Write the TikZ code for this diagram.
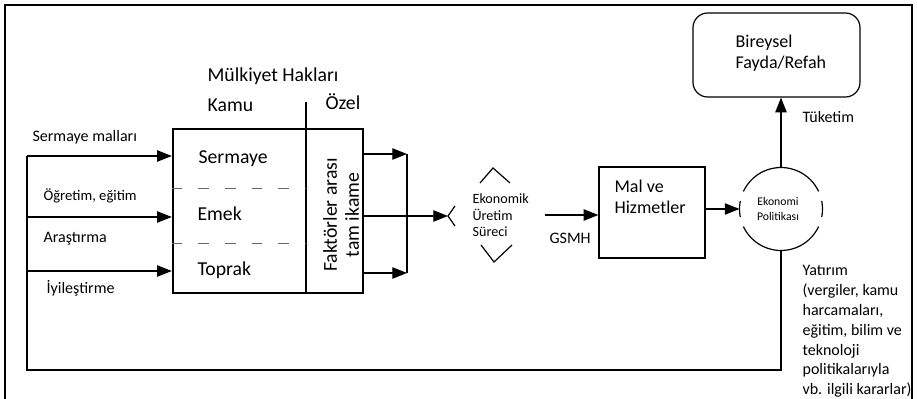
\documentclass[tikz,border=0pt]{standalone}
\usepackage{fontspec}
\setmainfont{Carlito}
\usetikzlibrary{arrows.meta}

\tikzset{every picture/.style={line width=0.75pt}}
\tikzset{
  arr/.style={-{Triangle[length=11pt,width=8.5pt]}},
  thinbox/.style={draw, line width=0.9pt, inner sep=0pt},
  thickbox/.style={draw, line width=1.8pt, inner sep=0pt},
  dashline/.style={draw=black!60, line width=0.6pt, dash pattern=on 8pt off 12pt},
  bigtxt/.style={font=\fontsize{14.8}{17}\selectfont, inner sep=0pt},
  midtxt/.style={font=\fontsize{13.5}{15.75}\selectfont, inner sep=0pt},
  labtxt/.style={font=\fontsize{12}{14.85}\selectfont, inner sep=0pt},
  smtxt/.style={font=\fontsize{10.6}{12.5}\selectfont, inner sep=0pt},
  tinytxt/.style={font=\fontsize{8.8}{11.25}\selectfont, inner sep=0pt}
}

\begin{document}
\begin{tikzpicture}[x=0.75pt,y=0.75pt,yscale=-1,xscale=1,line width=0.9pt]
\useasboundingbox (0,0) rectangle (917,399);

%Frame
\draw [line width=1.3pt] (5,405) -- (5,5) -- (912,5) -- (912,405) ;

%Shape: Rectangle [factors]
\node (fac) [thickbox, minimum width=142.5pt, minimum height=123pt] at (268,211) {};
%Shape: Rectangle [goods]
\node (mal) [thinbox, minimum width=79.5pt, minimum height=68.25pt] at (652,212.5) {};
%Rounded Rect [welfare]
\node (fay) [thinbox, rounded corners=11pt, minimum width=125.25pt, minimum height=63pt] at (776.5,55) {};
%Shape: Circle [policy]
\node (pol) [circle, inner sep=0pt, outer sep=0pt, minimum size=62.25pt] at (781,209) {};
\draw (pol.center) ++(25:41.5) arc [start angle=25, end angle=155, radius=41.5] ;
\draw (pol.center) ++(205:41.5) arc [start angle=205, end angle=335, radius=41.5] ;
\draw (pol.center) ++(-11:41.5) arc [start angle=-11, end angle=11, radius=41.5] ;
\draw (pol.center) ++(169:41.5) arc [start angle=169, end angle=191, radius=41.5] ;

%Coordinates
\coordinate (inS) at (27,156) ;
\coordinate (inE) at (27,217) ;
\coordinate (inT) at (27,271) ;
\coordinate (fbL) at (27,370) ;
\coordinate (divT) at (306,102) ;
\coordinate (dA) at (306,188) ;
\coordinate (dB) at (306,243) ;
\coordinate (oT) at (407,154) ;
\coordinate (oB) at (407,273) ;
\coordinate (procin) at (448,216) ;
\coordinate (gsin) at (545,215) ;

%Column divider and dashed rows
\draw (divT) -- (divT |- fac.south) ;
\draw [dashline] (fac.west |- dA) -- (dA) ;
\draw [dashline] (fac.west |- dB) -- (dB) ;

%Straight Lines [inputs]
\draw [arr] (inS) -- (inS -| fac.west) ;
\draw [arr] (inE) -- (inE -| fac.west) ;
\draw [arr] (inT) -- (inT -| fac.west) ;
%Straight Lines [feedback]
\draw (pol.south) -- (pol.south |- fbL) -- (fbL) -- (inS) ;

%Straight Lines [outputs]
\draw [arr] (fac.east |- oT) -- (oT) ;
\draw [arr] (fac.east |- oB) -- (oB) ;
\draw (oT) -- (oB) ;
\draw [arr] (fac.east |- procin) -- (procin) ;

%Chevrons round the process
\draw (455,206) -- (procin) -- (455,226) ;
\draw (480,183) -- (493,168) -- (510,183) ;
\draw (481,245) -- (494,262) -- (512,245) ;

\draw [arr] (gsin) -- (gsin -| mal.west) ;
\draw [arr] (mal.east |- pol.west) -- (pol.west) ;
\draw [arr] (pol.north) -- (pol.north |- fay.south) ;

% Text Node
\node (mulk) [bigtxt, anchor=base west] at (207,82) {Mülkiyet Hakları};
% Text Node
\node (kamu) [bigtxt, anchor=base west] at (207,112) {Kamu};
% Text Node
\node (ozel) [bigtxt, anchor=base west] at (325,110) {Özel};
% Text Node
\node (serm) [bigtxt, anchor=base west] at (198,164) {Sermaye};
% Text Node
\node (emek) [bigtxt, anchor=base west] at (197,220) {Emek};
% Text Node
\node (topr) [bigtxt, anchor=base west] at (197,275) {Toprak};
% Text Node
\node (ikame) [bigtxt, rotate=90, align=center, font=\fontsize{14.8}{16.5}\selectfont] at (341,215) {Faktörler arası\\tam ikame};
% Text Node
\node (lsm) [labtxt, anchor=base west] at (32,142) {Sermaye malları};
% Text Node
\node (log) [labtxt, anchor=base west, font=\fontsize{11}{13}\selectfont] at (43,200) {Öğretim, eğitim};
% Text Node
\node (lar) [labtxt, anchor=base west] at (43,242) {Araştırma};
% Text Node
\node (liy) [labtxt, anchor=base west] at (46,293) {İyileştirme};
% Text Node
\node (proc) [smtxt, anchor=north west, align=left] at (472,193) {Ekonomik\\Üretim\\Süreci};
% Text Node
\node (gsmh) [labtxt, anchor=base west] at (549,243) {GSMH};
% Text Node
\node (maltx) [midtxt, anchor=north west, align=left] at (614,179.5) {Mal ve\\Hizmetler};
% Text Node
\node (poltx) [tinytxt, anchor=north, align=center] at (778,197) {Ekonomi\\Politikası};
% Text Node
\node (faytx) [midtxt, anchor=north west, align=left] at (735,34.5) {Bireysel\\Fayda/Refah};
% Text Node
\node (tuk) [labtxt, anchor=base west] at (802,123) {Tüketim};
% Text Node
\node (yat) [labtxt, anchor=north west, align=left] at (802,265) {Yatırım\\(vergiler, kamu\\harcamaları,\\eğitim, bilim ve\\teknoloji\\politikalarıyla\\vb. ilgili kararlar)};

\end{tikzpicture}
\end{document}
